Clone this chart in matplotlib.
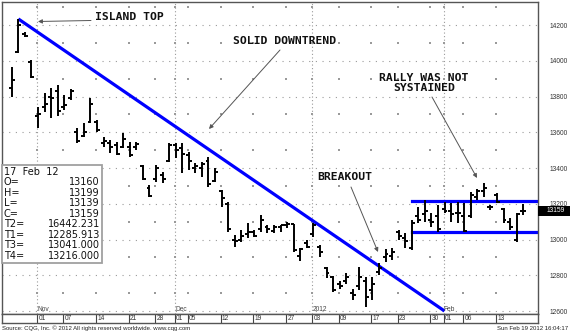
import numpy as np
import pandas as pd
import matplotlib
matplotlib.use('Agg')
import matplotlib.pyplot as plt
from matplotlib.patches import Rectangle
from matplotlib.transforms import blended_transform_factory

W, H = 570, 333

# ---------------- data ----------------
holidays = ['2011-11-24', '2011-12-26', '2012-01-02', '2012-01-16']
dates = [d for d in pd.bdate_range('2011-10-26', '2012-02-17')
         if d.strftime('%Y-%m-%d') not in holidays]

opens = [13850, 14050, 14150, 13995,
         13690, 13740, 13800, 13830, 13740, 13790, 13600, 13580, 13660, 13660,
         13540, 13540, 13530, 13520, 13520, 13520, 13410, 13290, 13340, 13360,
         13440, 13530, 13510, 13470, 13400, 13400, 13440, 13330, 13270, 13200,
         13000, 13000, 13030, 13040, 13060, 13070, 13050, 13070, 13080, 13085,
         12910, 12980, 13030, 12960, 12840, 12790, 12750, 12770, 12700, 12740,
         12770, 12720, 12820, 12900, 12910, 13040, 13010, 12950, 13130, 13140,
         13110, 13130, 13170, 13160, 13150, 13130, 13130, 13240, 13270, 13180,
         13250, 13170, 13100, 13000, 13160]
highs = [13965, 14234, 14160, 14004,
         13741, 13820, 13848, 13864, 13808, 13842, 13624, 13652, 13792, 13669,
         13573, 13557, 13546, 13596, 13546, 13546, 13417, 13305, 13417, 13378,
         13540, 13540, 13540, 13490, 13428, 13434, 13462, 13400, 13277, 13210,
         13025, 13053, 13092, 13053, 13137, 13081, 13081, 13081, 13098, 13087,
         12952, 12997, 13092, 12969, 12846, 12796, 12768, 12813, 12723, 12846,
         12790, 12790, 12869, 12947, 12952, 13053, 13036, 13109, 13182, 13221,
         13148, 13193, 13210, 13204, 13210, 13204, 13266, 13283, 13316, 13193,
         13260, 13176, 13120, 13148, 13199]
lows = [13797, 14043, 14133, 13904,
        13624, 13713, 13680, 13690, 13725, 13780, 13540, 13573, 13652, 13601,
        13518, 13484, 13473, 13512, 13462, 13501, 13333, 13238, 13322, 13316,
        13434, 13456, 13372, 13389, 13372, 13350, 13294, 13322, 13182, 13042,
        12958, 12986, 13008, 13014, 13042, 13036, 13036, 13042, 13064, 12930,
        12880, 12952, 13014, 12902, 12785, 12706, 12723, 12751, 12662, 12718,
        12622, 12662, 12801, 12874, 12885, 12997, 12952, 12941, 13092, 13098,
        13070, 13042, 13148, 13098, 13092, 13041, 13120, 13221, 13238, 13165,
        13204, 13092, 13053, 12986, 13139]
closes = [13890, 14200, 14140, 13910,
          13700, 13760, 13790, 13720, 13750, 13830, 13550, 13600, 13760, 13610,
          13550, 13520, 13480, 13560, 13475, 13535, 13340, 13245, 13400, 13340,
          13530, 13500, 13480, 13440, 13410, 13420, 13310, 13380, 13230, 13060,
          12990, 13020, 13040, 13020, 13110, 13060, 13070, 13080, 13085, 12940,
          12945, 12960, 13080, 12930, 12810, 12720, 12740, 12790, 12690, 12790,
          12680, 12750, 12840, 12920, 12930, 13020, 12990, 13090, 13110, 13160,
          13100, 13060, 13160, 13140, 13150, 13050, 13250, 13270, 13290, 13180,
          13210, 13110, 13070, 13140, 13159]

trend_dates = ['2011-10-27', '2012-02-01']
trend_prices = [14234, 12600]
channel_start = '2012-01-25'
T3, T4 = 13041.0, 13216.0
T1, T2 = 12285.913, 16442.231

week_dates = ['2011-11-01', '2011-11-07', '2011-11-14', '2011-11-21', '2011-11-28',
              '2011-12-01', '2011-12-05', '2011-12-12', '2011-12-19', '2011-12-27',
              '2012-01-03', '2012-01-09', '2012-01-17', '2012-01-23', '2012-01-30',
              '2012-02-01', '2012-02-06', '2012-02-13']
week_labels = ['01', '07', '14', '21', '28', '01', '05', '12', '19', '27',
               '03', '09', '17', '23', '30', '01', '06', '13']
month_dates = ['2011-11-01', '2011-12-01', '2012-01-03', '2012-02-01']
month_labels = ['Nov', 'Dec', '2012', 'Feb']

yticks = list(range(12600, 14201, 200))
last_close = '13159'

# ---------------- helpers ----------------
date_str = [d.strftime('%Y-%m-%d') for d in dates]
def pos(ds):
    return date_str.index(ds)

x = np.arange(len(dates))

# reference pixel -> data (layout only)
X0, DX = 38.0, 6.557
def px(xp):
    return (xp - X0) / DX + pos('2011-11-01')
def py(yp):
    return 14200 - 5.594 * (yp - 25)
def fx(xp):
    return xp / W
def fy(yp):
    return 1 - yp / H

fig = plt.figure(figsize=(W / 100, H / 100), dpi=100)
fig.patch.set_facecolor('white')

ax = fig.add_axes([fx(2), fy(314), (538 - 2) / W, (314 - 2) / H])
ax.set_xlim(px(2), px(538))
ax.set_ylim(py(314), py(2))

# grid
grid_c = '#9a9a9a'
for p in range(12600, 14401, 200):
    ax.axhline(p, color=grid_c, lw=0.8, ls=(0, (1, 5.0)), zorder=1)
wk = [pos(d) - 0.15 for d in week_dates]
minor = list(range(12700, 14401, 200))
WX, WY = np.meshgrid(wk, minor)
ax.scatter(WX.ravel(), WY.ravel(), s=0.6, marker='s', color=grid_c, lw=0, zorder=1)
for d in month_dates:
    ax.axvline(pos(d) - 0.15, color=grid_c, lw=0.8, ls=(0, (1, 2.2)), zorder=1)

# trend line
ax.plot([pos(trend_dates[0]), pos(trend_dates[1])], trend_prices,
        color='#0000ff', lw=2.3, solid_capstyle='butt', zorder=2)
# channel lines
xs = pos(channel_start)
ax.plot([xs, px(540)], [T4, T4], color='#0000ff', lw=2.3, zorder=2, clip_on=True)
ax.plot([xs, px(540)], [T3, T3], color='#0000ff', lw=2.3, zorder=2, clip_on=True)

# OHLC bars
tk = 0.45
ax.vlines(x, lows, highs, color='black', lw=1.4, zorder=3)
ax.hlines(opens, x - tk, x, color='black', lw=1.4, zorder=3)
ax.hlines(closes, x, x + tk, color='black', lw=1.4, zorder=3)

# axes styling
for s in ax.spines.values():
    s.set_color('#555555')
    s.set_linewidth(1.0)
ax.set_xticks([])
ax.yaxis.tick_right()
ax.set_yticks(yticks)
ax.set_yticklabels([str(v) for v in yticks], fontsize=4.8, color='#333333',
                   family='Liberation Sans')
ax.tick_params(axis='y', length=0, pad=8)

# month labels
btr = blended_transform_factory(ax.transData, ax.transAxes)
for d, lab in zip(month_dates, month_labels):
    ax.text(pos(d) - 0.1, 0.004, lab, transform=btr, fontsize=4.8, color='#444444',
            family='Liberation Sans', ha='left', va='bottom')

# date strip
axd = fig.add_axes([fx(2), fy(323), (538 - 2) / W, (323 - 314) / H])
axd.set_xlim(ax.get_xlim())
axd.set_ylim(0, 1)
axd.set_xticks([])
axd.set_yticks([])
for s in axd.spines.values():
    s.set_color('#555555')
    s.set_linewidth(1.0)
for d, lab in zip(week_dates, week_labels):
    p = pos(d) - 0.15
    axd.vlines(p, 0, 1, color='#444444', lw=0.8)
    axd.text(p + 0.2, 0.45, lab, fontsize=4.8, color='#333333', family='Liberation Sans',
             ha='left', va='center')

# price box at right
fig.patches.append(Rectangle((fx(538), fy(216)), (570 - 538) / W, 10 / H,
                             transform=fig.transFigure, facecolor='black',
                             edgecolor='none'))
fig.text(fx(547), fy(211), last_close, color='white', fontsize=4.8,
         family='Liberation Sans', ha='left', va='center')

# annotations
afont = dict(family='DejaVu Sans Mono', fontsize=8.2, fontweight='bold', color='#111111')
aprops = dict(arrowstyle='-|>', color='#555555', lw=0.7, mutation_scale=6,
              shrinkA=0, shrinkB=0)
ax.text(px(95), py(17.5), 'ISLAND TOP', ha='left', va='center', **afont)
ax.annotate('', xy=(px(38), py(21.5)), xytext=(px(91), py(20.5)), arrowprops=aprops)
ax.text(px(233), py(41), 'SOLID DOWNTREND', ha='left', va='center', **afont)
ax.annotate('', xy=(px(209), py(129)), xytext=(px(280), py(50)), arrowprops=aprops)
ax.text(px(424), py(83), 'RALLY WAS NOT\nSYSTAINED', ha='center', va='center',
        linespacing=0.95, **afont)
ax.annotate('', xy=(px(477), py(178)), xytext=(px(432), py(97)), arrowprops=aprops)
ax.text(px(317), py(177), 'BREAKOUT', ha='left', va='center', **afont)
ax.annotate('', xy=(px(378), py(252)), xytext=(px(351), py(187)), arrowprops=aprops)

# info box
fig.patches.append(Rectangle((fx(2), fy(263)), 100 / W, 98 / H, transform=fig.transFigure,
                             facecolor='white', edgecolor='#a0a0a0', lw=1.3, zorder=5))
last = len(dates) - 1
info = [('17  Feb  12', ''),
        ('O=', str(opens[last])), ('H=', str(highs[last])),
        ('L=', str(lows[last])), ('C=', str(closes[last])),
        ('T2=', f'{T2:.3f}'), ('T1=', f'{T1:.3f}'),
        ('T3=', f'{T3:.3f}'), ('T4=', f'{T4:.3f}')]
for i, (k, v) in enumerate(info):
    yy = 171.7 + i * 10.5
    fig.text(fx(4), fy(yy), k, fontsize=7, family='DejaVu Sans', color='#111111',
             ha='left', va='center', zorder=6)
    if v:
        fig.text(fx(100), fy(yy), v, fontsize=7, family='DejaVu Sans', color='#111111',
                 ha='right', va='center', zorder=6)

# footer
fig.text(fx(2), fy(328.5), 'Source: CQG, Inc. \u00a9 2012 All rights reserved worldwide. www.cqg.com',
         fontsize=4.3, family='Liberation Sans', color='#222222', ha='left', va='center')
fig.text(fx(568), fy(328.5), 'Sun Feb 19 2012 16:04:17', fontsize=4.3,
         family='Liberation Sans', color='#222222', ha='right', va='center')

fig.savefig('out.png', dpi=100)
